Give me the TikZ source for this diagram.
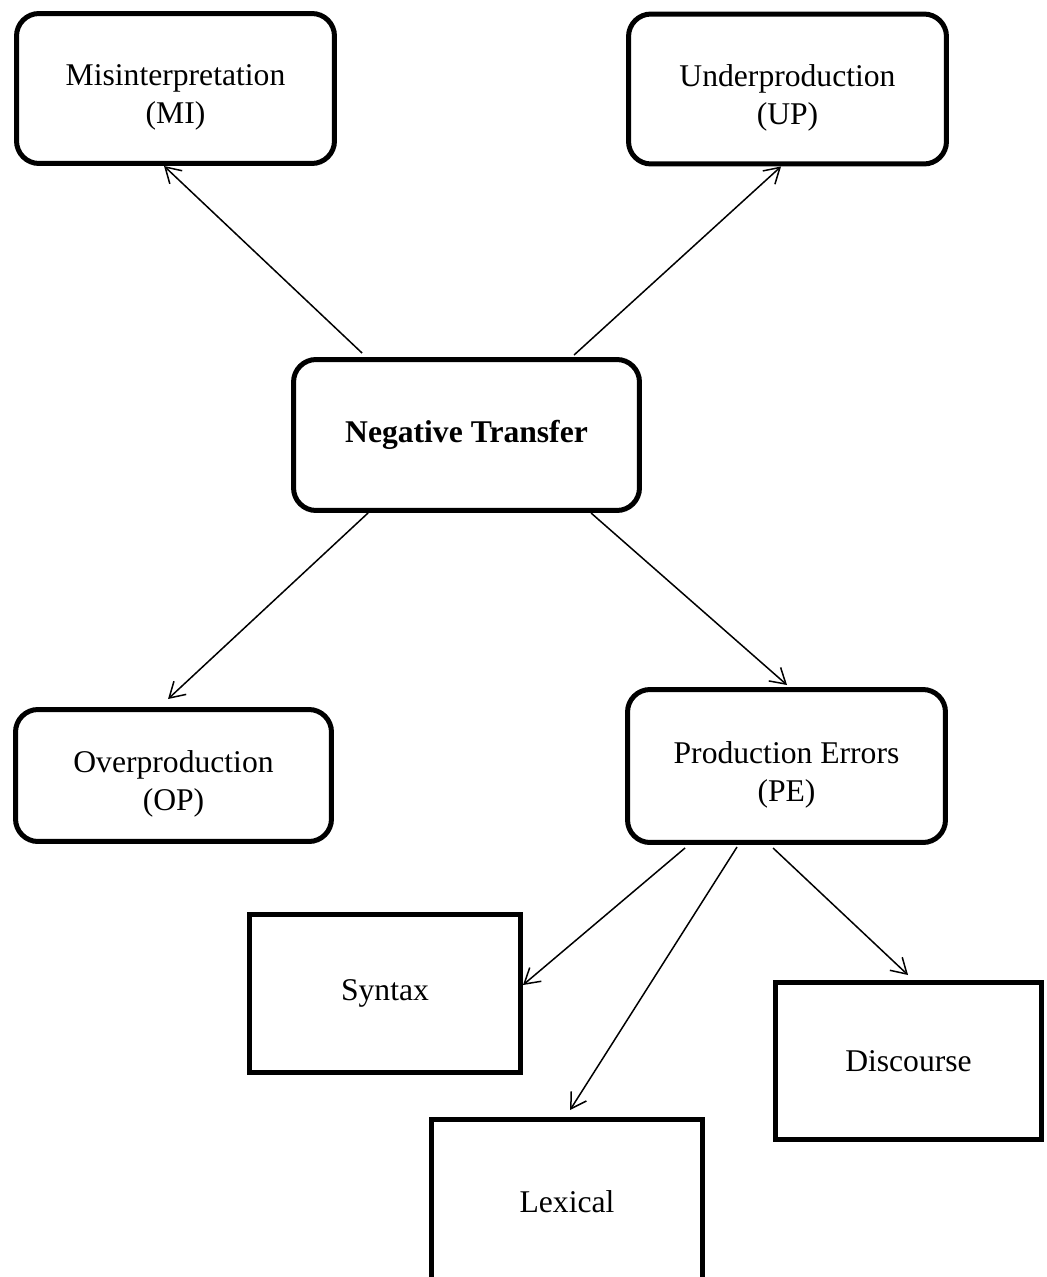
\documentclass[tikz,border=0pt]{standalone}
\usepackage{fontspec}
\setmainfont{Liberation Serif}
\usetikzlibrary{calc,arrows.meta}
\newcommand{\lowstrut}{\rule{0pt}{0.78cm}}

\begin{document}
\begin{tikzpicture}[x=0.02cm, y=-0.02cm,
		box/.style={draw, line width=0.1cm, rounded corners=0.45cm, align=center, inner sep=0pt, font=\fontsize{18}{21.6}\selectfont},
		leaf/.style={box, sharp corners},
		link/.style={line width=0.03cm, -{Straight Barb[length=0.3cm, width=0.36cm]}}]
		%%%%% START %%%%%
		\useasboundingbox (0, 0) rectangle (1046, 1277);
		
		\node[box, minimum width=6.36cm, minimum height=3.0cm] (mi) at (175.5, 88.5) {\lowstrut Misinterpretation\\(MI)};
		\node[box, minimum width=6.36cm, minimum height=3.0cm] (up) at (787.5, 89) {\lowstrut Underproduction\\(UP)};
		\node[box, minimum width=6.92cm, minimum height=3.02cm] (nt) at (466.5, 435) {\textbf{Negative Transfer}};
		\node[box, minimum width=6.32cm, minimum height=2.64cm] (op) at (173.5, 775.5) {\lowstrut Overproduction\\(OP)};
		\node[box, minimum width=6.36cm, minimum height=3.06cm] (pe) at (786.5, 766) {\lowstrut Production Errors\\(PE)};
		
		\node[leaf, minimum width=5.42cm, minimum height=3.16cm] (syn) at (385, 993.5) {Syntax};
		\node[leaf, minimum width=5.42cm, minimum height=3.3cm] (lex) at (567, 1202) {Lexical};
		\node[leaf, minimum width=5.32cm, minimum height=3.14cm] (dis) at (908.5, 1061) {Discourse};
		
		\draw[link] ($(nt.north west)+(71, -4)$) -- ($(mi.south west)+(150, 0)$);
		\draw[link] ($(nt.north west)+(283, -2)$) -- ($(up.south west)+(155, 0)$);
		\draw[link] ($(nt.south west)+(77, 0)$) -- ($(op.north west)+(155, -8)$);
		\draw[link] ($(nt.south west)+(300, 0)$) -- ($(pe.north west)+(162, -2)$);
		
		\draw[link] ($(pe.south west)+(60, 3)$) -- ($(syn.north east)+(0, 73)$);
		\draw[link] ($(pe.south west)+(112, 2)$) -- ($(lex.north west)+(141, -7)$);
		\draw[link] ($(pe.south west)+(148, 3)$) -- ($(dis.north west)+(135, -5)$);
		%%%%% END %%%%%
	\end{tikzpicture}
\end{document}
